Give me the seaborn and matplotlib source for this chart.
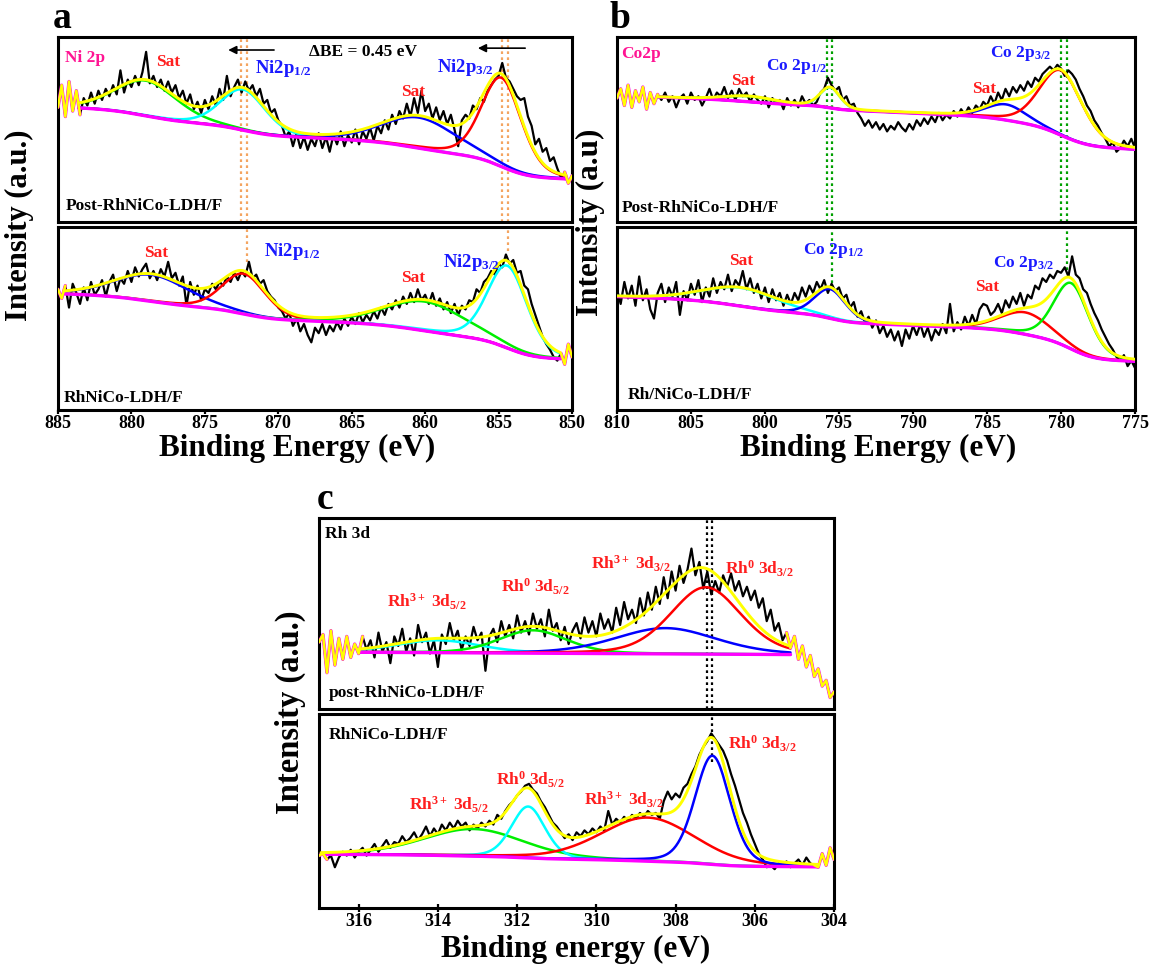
import numpy as np
import matplotlib
matplotlib.use("Agg")
import matplotlib.pyplot as plt
import seaborn as sns

# ---------------------------------------------------------------
# values; intensity is in % of each sub-panel
# ---------------------------------------------------------------
SHAPE = 0.25  # lorentzian fraction of the pseudo-Voigt line shape

# ---- panel a : Ni 2p ----
A_RANGE = [885.0, 850.0]
A_TICKS = [885, 880, 875, 870, 865, 860, 855, 850]

A_TOP_RAW = [62, 74, 57, 76, 60, 71, 58, 67, 63, 70, 64, 71, 66, 72, 68, 74, 69, 82, 70, 77,
             73, 79, 74, 81, 92, 75, 79, 73, 77, 71, 76, 70, 74, 67, 71, 64, 69, 61, 65, 59,
             66, 61, 68, 63, 72, 66, 79, 68, 73, 77, 70, 76, 71, 74, 68, 72, 64, 66, 59, 61,
             55, 52, 46, 49, 41, 48, 40, 46, 39, 45, 41, 48, 40, 46, 38, 47, 42, 49, 41, 47,
             43, 50, 42, 49, 45, 51, 44, 52, 48, 55, 50, 58, 53, 60, 56, 64, 57, 67, 59, 71,
             60, 64, 56, 62, 55, 60, 53, 58, 50, 41, 55, 58, 56, 63, 61, 67, 65, 71, 74, 77,
             79, 86, 78, 76, 72, 68, 66, 67, 57, 52, 42, 45, 38, 40, 33, 35, 29, 24, 27, 21, 25]
A_TOP_FIT = [883.6, 850.4]
A_TOP_BG = [61.7, 23.3, 0.25]          # high-BE end, low-BE end, slope per eV
A_TOP_CENTER = [879.0, 872.4, 860.4, 854.8]
A_TOP_HEIGHT = [19.0, 22.0, 16.5, 48.0]
A_TOP_FWHM = [5.0, 3.6, 6.0, 3.2]

A_BOT_RAW = [66, 61, 68, 56, 69, 64, 58, 67, 60, 70, 63, 66, 71, 62, 70, 74, 65, 72, 69, 76,
             70, 78, 73, 77, 80, 72, 76, 71, 77, 73, 81, 72, 75, 68, 73, 57, 70, 63, 68, 60,
             66, 64, 69, 66, 70, 68, 73, 70, 75, 71, 76, 73, 81, 72, 74, 69, 71, 65, 62, 60,
             56, 54, 50, 53, 46, 50, 43, 47, 41, 37, 45, 42, 47, 41, 46, 43, 48, 44, 50, 46,
             51, 47, 53, 48, 52, 49, 54, 50, 56, 52, 58, 55, 60, 56, 62, 58, 64, 59, 66, 60,
             63, 58, 64, 57, 61, 55, 59, 53, 58, 52, 57, 55, 60, 59, 66, 64, 70, 72, 76, 74,
             80, 78, 85, 80, 82, 75, 76, 68, 66, 58, 52, 46, 40, 36, 33, 29, 27, 31, 25, 36, 29]
A_BOT_FIT = [884.6, 850.8]
A_BOT_BG = [63.5, 28.0, 0.2]
A_BOT_CENTER = [878.6, 872.35, 860.0, 854.4]
A_BOT_HEIGHT = [14.5, 22.0, 16.0, 45.0]
A_BOT_FWHM = [6.0, 3.5, 6.5, 3.2]

A_TOP_MARK = [872.55, 854.8]
A_BOT_MARK = [872.1, 854.35]
A_BOT_MARK_END = [80.7, 86.8]

# ---- panel b : Co 2p ----
B_RANGE = [810.0, 775.0]
B_TICKS = [810, 805, 800, 795, 790, 785, 780, 775]

B_TOP_RAW = [67, 72, 63, 74, 62, 71, 65, 73, 61, 70, 64, 69, 66, 70, 65, 68, 62, 67, 69, 64,
             70, 66, 68, 63, 67, 72, 66, 70, 68, 73, 67, 71, 66, 72, 68, 70, 65, 69, 66, 64,
             68, 62, 67, 64, 66, 61, 67, 63, 66, 62, 68, 64, 66, 63, 65, 70, 72, 78, 74, 71,
             73, 66, 68, 63, 64, 59, 56, 52, 55, 51, 54, 50, 53, 49, 52, 50, 54, 51, 49, 53,
             50, 55, 52, 56, 53, 57, 54, 59, 55, 58, 56, 60, 57, 61, 58, 62, 59, 63, 61, 65,
             63, 68, 64, 70, 66, 72, 68, 73, 70, 74, 71, 76, 73, 78, 76, 80, 82, 84, 82, 85,
             83, 79, 82, 80, 77, 72, 68, 63, 60, 55, 52, 48, 45, 41, 43, 38, 40, 44, 41, 45, 40]
B_TOP_FIT = [807.2, 775.0]
B_TOP_BG = [67.6, 39.3, 0.32]
B_TOP_CENTER = [801.1, 795.6, 783.7, 780.0]
B_TOP_HEIGHT = [3.0, 11.0, 8.5, 35.0]
B_TOP_FWHM = [4.0, 1.6, 3.2, 3.4]

B_BOT_RAW = [66, 58, 70, 61, 68, 57, 73, 60, 66, 55, 50, 64, 69, 59, 67, 62, 70, 52, 65, 60,
             69, 63, 71, 59, 67, 62, 72, 64, 70, 66, 74, 65, 71, 68, 76, 66, 72, 64, 69, 61,
             67, 59, 66, 60, 64, 57, 63, 58, 64, 60, 67, 62, 68, 64, 70, 66, 71, 64, 69, 65,
             67, 61, 63, 56, 59, 51, 54, 48, 51, 45, 49, 42, 46, 40, 44, 38, 43, 35, 44, 39,
             46, 41, 47, 40, 45, 38, 44, 41, 47, 42, 58, 43, 48, 44, 51, 46, 52, 47, 55, 58,
             57, 52, 54, 58, 53, 60, 56, 62, 58, 64, 57, 63, 61, 68, 66, 72, 70, 74, 72, 76,
             75, 78, 73, 84, 74, 72, 66, 64, 58, 53, 49, 44, 40, 36, 33, 29, 27, 30, 24, 27, 23]
B_BOT_FIT = [810.0, 775.0]
B_BOT_BG = [62.0, 26.6, 0.25]
B_BOT_CENTER = [801.6, 795.6, 782.4, 779.3]
B_BOT_HEIGHT = [10.0, 16.0, 12.0, 36.0]
B_BOT_FWHM = [6.0, 2.5, 4.0, 2.8]

B_TOP_MARK = [795.8, 780.0]
B_BOT_MARK = [795.45, 779.6]
B_BOT_MARK_END = [69.6, 76.5]

# ---- panel c : Rh 3d ----
C_RANGE = [317.0, 304.0]
C_TICKS = [316, 314, 312, 310, 308, 306, 304]

C_TOP_RAW = [35, 39, 19, 41, 23, 37, 26, 38, 27, 34,
             29, 38, 31, 36, 27, 40, 30, 35, 24, 38,
             33, 42, 30, 37, 28, 44, 35, 40, 29, 36,
             22, 39, 34, 45, 36, 41, 31, 38, 33, 43,
             36, 40, 20, 38, 42, 35, 46, 38, 44, 37,
             49, 40, 46, 39, 50, 42, 47, 38, 52, 41,
             45, 36, 43, 34, 41, 45, 37, 48, 40, 46,
             38, 50, 42, 47, 40, 53, 44, 56, 47, 52,
             45, 58, 49, 61, 52, 64, 55, 69, 58, 72,
             62, 75, 66, 73, 84, 70, 77, 63, 72, 60,
             67, 61, 70, 64, 71, 62, 67, 59, 64, 57,
             62, 53, 58, 46, 52, 41, 45, 36, 40, 32,
             38, 26, 33, 22, 28, 17, 21, 12, 15, 6, 9]
C_TOP_FIT = [316.0, 305.1]
C_TOP_BG = [29.7, 28.5, 0.11]
C_TOP_CENTER = [314.0, 311.6, 308.25, 307.24]
C_TOP_HEIGHT = [6.5, 12.0, 13.5, 35.0]
C_TOP_FWHM = [2.5, 2.0, 3.0, 2.1]

C_BOT_RAW = [27, 28, 25, 27, 21, 26, 29, 27, 30, 26,
             29, 31, 27, 30, 33, 29, 32, 35, 31, 34,
             33, 37, 34, 36, 39, 35, 38, 42, 37, 41,
             38, 43, 40, 44, 41, 45, 42, 44, 40, 43,
             41, 44, 42, 45, 43, 48, 46, 50, 53, 55,
             58, 60, 63, 64, 61, 59, 55, 52, 48, 44,
             42, 39, 36, 38, 35, 39, 37, 40, 38, 41,
             39, 42, 40, 50, 43, 46, 44, 47, 45, 48,
             46, 49, 47, 50, 48, 49, 46, 55, 60, 56,
             59, 57, 62, 64, 69, 73, 79, 83, 86, 90,
             87, 84, 81, 76, 69, 63, 56, 49, 44, 38,
             33, 28, 25, 21, 22, 20, 23, 22, 24, 21,
             23, 25, 22, 26, 23, 22, 21, 28, 22, 31, 25]
C_BOT_FIT = [316.95, 304.4]
C_BOT_BG = [27.7, 21.2, 0.1]
C_BOT_CENTER = [313.1, 311.72, 308.7, 307.07]
C_BOT_HEIGHT = [14.0, 26.5, 22.5, 56.0]
C_BOT_FWHM = [3.0, 1.0, 2.8, 1.05]

C_TOP_MARK = [307.21]
C_BOT_MARK = [307.07]
C_BOT_MARK_END = [75.0]

# ---------------------------------------------------------------
# styling
# ---------------------------------------------------------------
RED, BLUE, GREEN, CYAN = "#ff0000", "#0000ff", "#00ee00", "#00ffff"
MAGENTA, YELLOW = "#ff00ff", "#ffff00"
T_RED, T_BLUE, T_PINK = "#ff1f1f", "#1a1aff", "#ff1493"

sns.set_theme(style="white")
plt.rcParams["font.family"] = ["Liberation Serif", "DejaVu Serif"]
plt.rcParams["font.weight"] = "bold"
plt.rcParams["axes.labelweight"] = "bold"
plt.rcParams["text.color"] = "black"
plt.rcParams["xtick.color"] = "black"
plt.rcParams["axes.labelcolor"] = "black"
plt.rcParams["mathtext.fontset"] = "custom"
plt.rcParams["mathtext.rm"] = "Liberation Serif:bold"
plt.rcParams["mathtext.it"] = "Liberation Serif:bold"
plt.rcParams["mathtext.bf"] = "Liberation Serif:bold"

LBL = 12.5
NI = 13.5


def pvoigt(e, c, h, w):
    x = (e - c) / w
    return h * ((1 - SHAPE) * np.exp(-4 * np.log(2) * x ** 2) + SHAPE / (1 + 4 * x ** 2))


def fitted(fit, bg, centers, heights, fwhm):
    # peaks on a Shirley-type background (plus a linear slope)
    e = np.linspace(min(fit), max(fit), 700)
    peaks = [pvoigt(e, c, h, w) for c, h, w in zip(centers, heights, fwhm)]
    total = np.sum(peaks, axis=0)
    cum = np.cumsum(total)
    cum = (cum - cum[0]) / (cum[-1] - cum[0])
    hi, lo, slope = bg
    base = lo + slope * (e - e[0]) + (hi - lo - slope * (e[-1] - e[0])) * cum
    return e, base, peaks, total


def line(ax, x, y, color, lw, z):
    sns.lineplot(x=x, y=y, ax=ax, color=color, lw=lw, sort=False,
                 estimator=None, legend=False, zorder=z)


def draw_spectrum(ax, xr, raw, fit, bg, centers, heights, fwhm, colors):
    raw = np.asarray(raw, dtype=float)
    e_raw = np.linspace(xr[0], xr[1], len(raw))
    line(ax, e_raw, raw, "black", 1.6, 2)

    e, base, peaks, total = fitted(fit, bg, centers, heights, fwhm)
    for p, col in zip(peaks, colors):
        line(ax, e, base + p, col, 1.8, 3)
    line(ax, e, base, MAGENTA, 2.4, 4)
    line(ax, e, base + total, YELLOW, 2.1, 5)

    # outside the fitted window the fit columns just repeat the counts
    for mask in (e_raw >= max(fit) - 0.15, e_raw <= min(fit) + 0.15):
        if mask.sum() > 1:
            line(ax, e_raw[mask], raw[mask], MAGENTA, 2.4, 4)
            line(ax, e_raw[mask], raw[mask], YELLOW, 1.8, 5)

    ax.set_xlim(xr)
    ax.set_ylim(0, 100)


def style(ax, ticks, bottom, direction="out", length=3.0):
    for s in ax.spines.values():
        s.set_linewidth(2.2)
        s.set_color("black")
    ax.set_yticks([])
    ax.set_xticks(ticks)
    ax.set_xlabel("")
    ax.set_ylabel("")
    if bottom:
        ax.tick_params(axis="x", direction=direction, length=length, width=1.6,
                       labelsize=13, bottom=True, pad=0.5, colors="black")
        ax.set_xticklabels([str(t) for t in ticks], fontweight="bold")
    else:
        ax.tick_params(axis="x", bottom=False, labelbottom=False)


def labels(ax, items):
    for txt, x, y, col, ha, size in items:
        ax.text(x, y, txt, color=col, fontsize=size, ha=ha, va="center",
                fontweight="bold", zorder=7)


def marks(ax_top, ax_bot, top_e, bot_e, bot_end, color):
    for x in list(top_e) + list(bot_e):
        ax_top.axvline(x, color=color, ls=(0, (1.2, 1.5)), lw=1.6, zorder=1)
    for x, y in zip(bot_e, bot_end):
        ax_bot.plot([x, x], [y, 100], color=color, ls=(0, (1.2, 1.5)), lw=1.6, zorder=1)


fig = plt.figure(figsize=(11.53, 9.65), dpi=100)

ax_at = fig.add_axes([0.0503, 0.7699, 0.4458, 0.1917])
ax_ab = fig.add_axes([0.0503, 0.5751, 0.4458, 0.1896])
ax_bt = fig.add_axes([0.5351, 0.7699, 0.4493, 0.1917])
ax_bb = fig.add_axes([0.5351, 0.5751, 0.4493, 0.1896])
ax_ct = fig.add_axes([0.2767, 0.2653, 0.4467, 0.1979])
ax_cb = fig.add_axes([0.2767, 0.0591, 0.4467, 0.2010])

# panel a
draw_spectrum(ax_at, A_RANGE, A_TOP_RAW, A_TOP_FIT, A_TOP_BG, A_TOP_CENTER, A_TOP_HEIGHT,
              A_TOP_FWHM, [GREEN, CYAN, BLUE, RED])
draw_spectrum(ax_ab, A_RANGE, A_BOT_RAW, A_BOT_FIT, A_BOT_BG, A_BOT_CENTER, A_BOT_HEIGHT,
              A_BOT_FWHM, [BLUE, RED, GREEN, CYAN])
marks(ax_at, ax_ab, A_TOP_MARK, A_BOT_MARK, A_BOT_MARK_END, "#f4a460")
labels(ax_at, [("Ni 2p", 884.5, 88.5, T_PINK, "left", LBL),
               ("Sat", 877.5, 86.5, T_RED, "center", LBL),
               (r"Ni2p$_{1/2}$", 871.6, 83.0, T_BLUE, "left", NI),
               ("ΔBE = 0.45 eV", 864.2, 92.0, "black", "center", LBL),
               ("Sat", 860.8, 70.5, T_RED, "center", LBL),
               (r"Ni2p$_{3/2}$", 859.2, 83.5, T_BLUE, "left", NI),
               ("Post-RhNiCo-LDH/F", 884.5, 8.6, "black", "left", LBL)])
labels(ax_ab, [("Sat", 878.3, 86.0, T_RED, "center", LBL),
               (r"Ni2p$_{1/2}$", 871.0, 86.5, T_BLUE, "left", NI),
               ("Sat", 860.8, 72.0, T_RED, "center", LBL),
               (r"Ni2p$_{3/2}$", 858.8, 80.5, T_BLUE, "left", NI),
               ("RhNiCo-LDH/F", 884.6, 6.7, "black", "left", LBL)])
ax_at.annotate("", xy=(873.6, 93.0), xytext=(870.1, 93.0),
               arrowprops=dict(arrowstyle="-|>", color="black", lw=1.2, mutation_scale=12))
ax_at.annotate("", xy=(856.6, 94.0), xytext=(853.0, 94.0),
               arrowprops=dict(arrowstyle="-|>", color="black", lw=1.2, mutation_scale=12))

# panel b
draw_spectrum(ax_bt, B_RANGE, B_TOP_RAW, B_TOP_FIT, B_TOP_BG, B_TOP_CENTER, B_TOP_HEIGHT,
              B_TOP_FWHM, [GREEN, CYAN, BLUE, RED])
draw_spectrum(ax_bb, B_RANGE, B_BOT_RAW, B_BOT_FIT, B_BOT_BG, B_BOT_CENTER, B_BOT_HEIGHT,
              B_BOT_FWHM, [CYAN, BLUE, RED, GREEN])
marks(ax_bt, ax_bb, B_TOP_MARK, B_BOT_MARK, B_BOT_MARK_END, "#00a000")
labels(ax_bt, [("Co2p", 809.7, 91.0, T_PINK, "left", LBL),
               ("Sat", 801.5, 76.0, T_RED, "center", LBL),
               (r"Co 2p$_{1/2}$", 799.9, 84.0, T_BLUE, "left", LBL),
               ("Sat", 785.2, 72.0, T_RED, "center", LBL),
               (r"Co 2p$_{3/2}$", 784.8, 91.0, T_BLUE, "left", LBL),
               ("Post-RhNiCo-LDH/F", 809.7, 7.8, "black", "left", LBL)])
labels(ax_bb, [("Sat", 801.6, 81.7, T_RED, "center", LBL),
               (r"Co 2p$_{1/2}$", 797.4, 87.0, T_BLUE, "left", LBL),
               ("Sat", 785.0, 67.0, T_RED, "center", LBL),
               (r"Co 2p$_{3/2}$", 784.6, 80.0, T_BLUE, "left", LBL),
               ("Rh/NiCo-LDH/F", 809.3, 8.2, "black", "left", LBL)])

# panel c
draw_spectrum(ax_ct, C_RANGE, C_TOP_RAW, C_TOP_FIT, C_TOP_BG, C_TOP_CENTER, C_TOP_HEIGHT,
              C_TOP_FWHM, [CYAN, GREEN, BLUE, RED])
draw_spectrum(ax_cb, C_RANGE, C_BOT_RAW, C_BOT_FIT, C_BOT_BG, C_BOT_CENTER, C_BOT_HEIGHT,
              C_BOT_FWHM, [GREEN, CYAN, RED, BLUE])
marks(ax_ct, ax_cb, C_TOP_MARK, C_BOT_MARK, C_BOT_MARK_END, "black")
labels(ax_ct, [("Rh 3d", 316.85, 91.8, "black", "left", LBL),
               (r"Rh$^{3+}$ 3d$_{5/2}$", 315.28, 56.0, T_RED, "left", LBL),
               (r"Rh$^{0}$ 3d$_{5/2}$", 312.4, 63.8, T_RED, "left", LBL),
               (r"Rh$^{3+}$ 3d$_{3/2}$", 310.14, 76.0, T_RED, "left", LBL),
               (r"Rh$^{0}$ 3d$_{3/2}$", 306.76, 73.4, T_RED, "left", LBL),
               ("post-RhNiCo-LDH/F", 316.76, 8.4, "black", "left", LBL)])
labels(ax_cb, [("RhNiCo-LDH/F", 316.76, 89.0, "black", "left", LBL),
               (r"Rh$^{3+}$ 3d$_{5/2}$", 314.72, 53.0, T_RED, "left", LBL),
               (r"Rh$^{0}$ 3d$_{5/2}$", 312.54, 66.3, T_RED, "left", LBL),
               (r"Rh$^{3+}$ 3d$_{3/2}$", 310.3, 55.8, T_RED, "left", LBL),
               (r"Rh$^{0}$ 3d$_{3/2}$", 306.68, 84.7, T_RED, "left", LBL)])

style(ax_at, A_TICKS, False)
style(ax_ab, A_TICKS, True)
style(ax_bt, B_TICKS, False)
style(ax_bb, B_TICKS, True)
style(ax_ct, C_TICKS, False)
style(ax_cb, C_TICKS, True, direction="inout", length=6)

# axis titles and panel letters
fig.text(0.2576, 0.5355, "Binding Energy (eV)", fontsize=22.5, fontweight="bold",
         ha="center", va="center")
fig.text(0.7615, 0.5355, "Binding Energy (eV)", fontsize=22.5, fontweight="bold",
         ha="center", va="center")
fig.text(0.4996, 0.0165, "Binding energy (eV)", fontsize=22.5, fontweight="bold",
         ha="center", va="center")
fig.text(0.0173, 0.767, "Intensity (a.u.)", fontsize=22, fontweight="bold",
         ha="center", va="center", rotation=90)
fig.text(0.512, 0.770, "Intensity (a.u)", fontsize=22.5, fontweight="bold",
         ha="center", va="center", rotation=90)
fig.text(0.2515, 0.262, "Intensity (a.u.)", fontsize=23.5, fontweight="bold",
         ha="center", va="center", rotation=90)
fig.text(0.0538, 0.981, "a", fontsize=27, fontweight="bold", ha="center", va="center")
fig.text(0.538, 0.981, "b", fontsize=27, fontweight="bold", ha="center", va="center")
fig.text(0.282, 0.482, "c", fontsize=27, fontweight="bold", ha="center", va="center")

fig.savefig("out.png", dpi=100)
